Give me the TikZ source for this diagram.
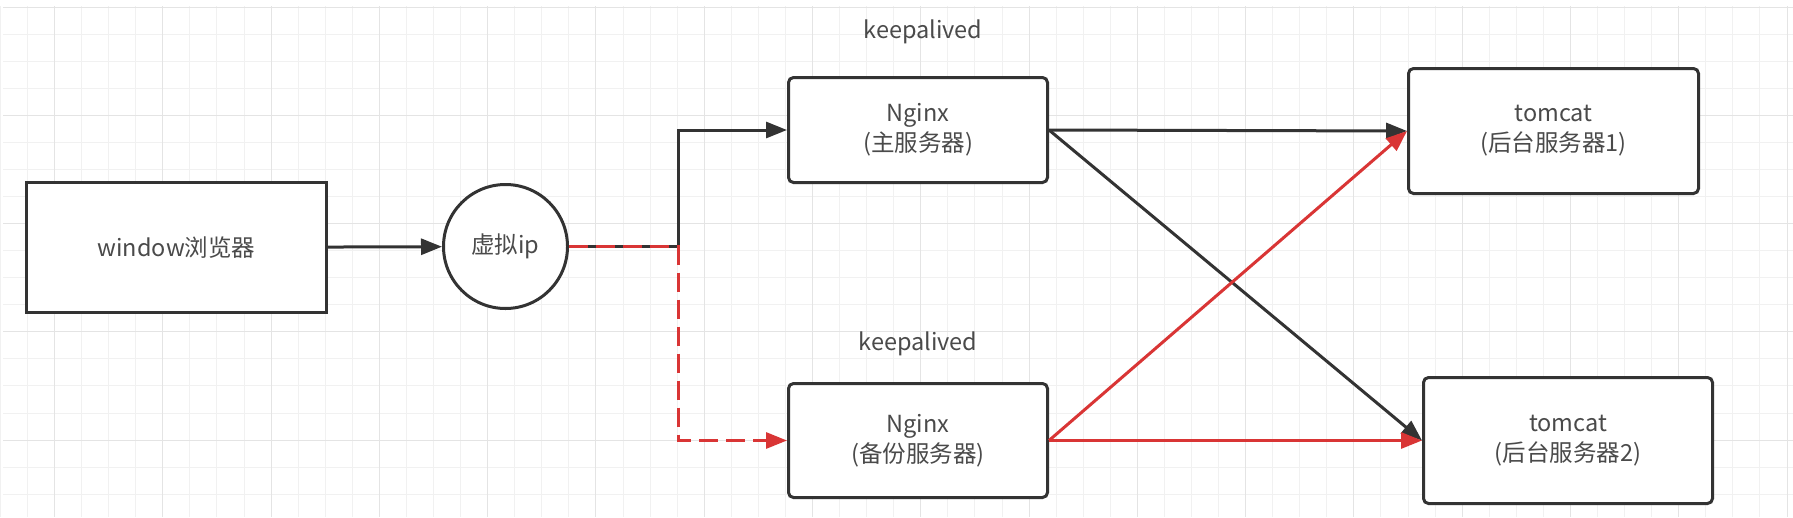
\documentclass[tikz,border=0pt]{standalone}
\usepackage{fontspec}
\setmainfont{Noto Sans CJK SC}
\usetikzlibrary{arrows.meta}
\definecolor{ln}{HTML}{333333}
\definecolor{rd}{HTML}{D93535}
\definecolor{tx}{HTML}{4A4A4A}
\definecolor{gmin}{HTML}{F1F1F1}
\definecolor{gmaj}{HTML}{E4E4E4}
\begin{document}
\begin{tikzpicture}[x=1pt,y=-1pt,
  txt/.style={text=tx,font=\fontsize{23.5}{30}\selectfont,align=center,inner sep=0pt},
  box/.style={txt,draw=ln,line width=3pt,fill=white,rounded corners=5pt},
  sqbox/.style={txt,draw=ln,line width=3pt,fill=white},
  circ/.style={txt,draw=ln,line width=3pt,fill=white,circle},
  arr/.style={line width=3pt,-{Triangle[length=21pt,width=16pt]}},
  blk/.style={arr,draw=ln},
  red/.style={arr,draw=rd},
  reddash/.style={arr,draw=rd,dash pattern=on 19pt off 8pt}]
\useasboundingbox (0,0) rectangle (1793,517);
\fill[white] (0,0) rectangle (1793,517);
% grid
\foreach \k in {0,...,66}{\draw[gmin,line width=1pt] ({0.4+27.07*\k},6) -- ({0.4+27.07*\k},517);}
\foreach \k in {0,...,18}{\draw[gmin,line width=1pt] (3,{7+27.07*\k}) -- (1793,{7+27.07*\k});}
\foreach \k in {0,...,16}{\draw[gmaj,line width=1pt] ({54.5+108.28*\k},6) -- ({54.5+108.28*\k},517);}
\foreach \k in {0,...,4}{\draw[gmaj,line width=1pt] (3,{7+108.28*\k}) -- (1793,{7+108.28*\k});}
% nodes
\node[sqbox,minimum width=300pt,minimum height=130pt] (win) at (176.5,247.5) {window浏览器};
\node[circ,minimum size=124pt] (vip) at (505.5,246.5) {虚拟ip};
\node[box,minimum width=259pt,minimum height=105pt] (ng1) at (918,130) {Nginx\\(主服务器)};
\node[box,minimum width=259pt,minimum height=114pt] (ng2) at (918,440.5) {Nginx\\(备份服务器)};
\node[box,minimum width=290pt,minimum height=125pt] (tc1) at (1553.5,131) {tomcat\\(后台服务器1)};
\node[box,minimum width=289pt,minimum height=126pt] (tc2) at (1568,440.5) {tomcat\\(后台服务器2)};
\node[txt] (kp1) at (923,32) {keepalived};
\node[txt] (kp2) at (918,344) {keepalived};
\coordinate (j) at (678,246.5);
% connectors
\draw[blk] (win) -- (vip);
\draw[blk] (vip.east) -- (j) |- (ng1.west);
\draw[reddash] (vip.east) -- (j) |- (ng2.west);
\draw[blk] (ng1.east) -- (tc1.west);
\draw[blk] (ng1.east) -- (tc2.west);
\draw[red] (ng2.east) -- (tc1.west);
\draw[red] (ng2.east) -- (tc2.west);
\end{tikzpicture}
\end{document}
